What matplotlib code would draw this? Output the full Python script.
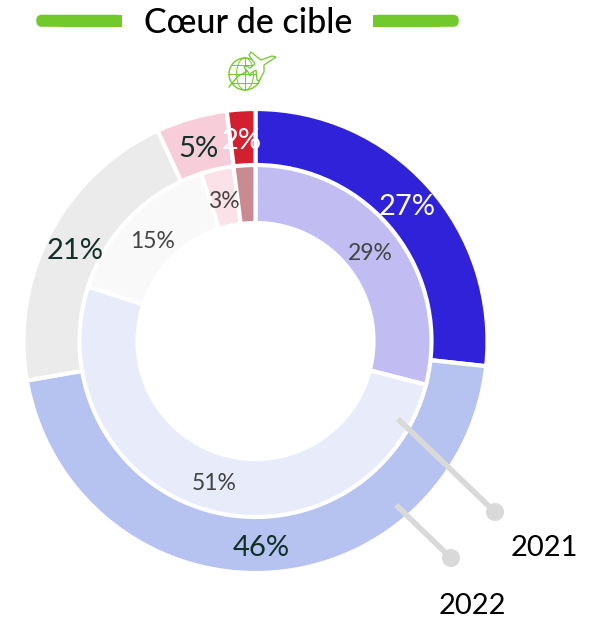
import matplotlib
matplotlib.use("Agg")
import matplotlib.pyplot as plt
import numpy as np
from matplotlib.patches import Circle, Ellipse, FancyBboxPatch, Polygon

W, H = 589, 620

# --- data ---
title = "Cœur de cible"
outer_vals = [27, 46, 21, 5, 2]   # 2022
inner_vals = [29, 51, 15, 3, 2]   # 2021
outer_labels = ["27%", "46%", "21%", "5%", "2%"]
inner_labels = ["29%", "51%", "15%", "3%", ""]
outer_cols = ["#2f22d8", "#b6c2f0", "#ebebeb", "#f6cdd8", "#d22030"]
inner_cols = ["#c1bdf3", "#e7ebfa", "#f9f9f9", "#fbe1e8", "#c98a92"]
outer_txt = ["white", "#12302a", "#12302a", "#12302a", "white"]

# label positions in pixels (from top left)
outer_pos = [(407, 207), (261, 548), (75, 251), (198, 149), (242, 141)]
inner_pos = [(370, 254), (214, 483), (153, 241), (224, 202), (0, 0)]

GREEN = "#72c92c"
GREY = "#d9d9d9"
cx, cy = 255.5, 620 - 341


def py(y):
    return H - y


plt.rcParams['font.family'] = ['Lato', 'DejaVu Sans']

fig = plt.figure(figsize=(W / 100, H / 100), dpi=100)
ax = fig.add_axes([0, 0, 1, 1])

# --- rings ---
ax.pie(outer_vals, colors=outer_cols, startangle=90, counterclock=False,
       radius=232, center=(cx, cy), frame=False,
       wedgeprops=dict(width=57, edgecolor="white", linewidth=3))
ax.pie(inner_vals, colors=inner_cols, startangle=90, counterclock=False,
       radius=176, center=(cx, cy), frame=False,
       wedgeprops=dict(width=58, edgecolor="white", linewidth=3))
ax.set_xlim(0, W)
ax.set_ylim(0, H)
ax.set_aspect("equal")
ax.axis("off")

# --- value labels ---
for lab, pos, col in zip(outer_labels, outer_pos, outer_txt):
    ax.text(pos[0], py(pos[1]), lab, color=col, fontsize=21, fontweight="normal",
            ha="center", va="center", zorder=5)
for lab, pos in zip(inner_labels, inner_pos):
    if lab:
        ax.text(pos[0], py(pos[1]), lab, color="#444444", fontsize=16.5,
                fontweight="normal", ha="center", va="center", zorder=5)

# --- title with side bars ---
ax.text(248, py(23), title, color="black", fontsize=24.5, fontweight="medium",
        ha="center", va="center")
for x0, x1 in [(36, 122), (373, 459)]:
    ax.add_patch(FancyBboxPatch((x0 + 6, py(27) + 6), x1 - x0 - 12, 0.5,
                                boxstyle="round,pad=5.8", fc=GREEN, ec="none", zorder=2))
ax.fill_between([60, 122], py(27), py(15), color=GREEN, lw=0, zorder=3)
ax.fill_between([373, 440], py(27), py(15), color=GREEN, lw=0, zorder=3)

# --- small globe and plane icon ---
ax.add_patch(Circle((245, py(74)), 16, fc="none", ec=GREEN, lw=1))
ax.add_patch(Ellipse((245, py(74)), 17, 32, fc="none", ec=GREEN, lw=0.7))
ax.plot([229, 261], [py(74), py(74)], color=GREEN, lw=0.7)
ax.plot([245, 245], [py(58), py(90)], color=GREEN, lw=0.7)
ax.plot([232, 258], [py(65), py(65)], color=GREEN, lw=0.7)
ax.plot([232, 258], [py(83), py(83)], color=GREEN, lw=0.7)
ax.plot([229, 238, 252, 264], [py(87), py(76), py(69), py(63)], color=GREEN, lw=1)
plane = [(276, 57), (264, 65), (264, 72), (259, 81), (257, 80), (256, 70), (251, 73),
         (250, 76), (248, 72), (244, 67), (247, 66), (250, 68), (255, 64), (249, 55),
         (251, 52), (261, 60), (272, 56)]
ax.add_patch(Polygon([(x, py(y)) for x, y in plane], closed=True, fc="white", ec=GREEN,
                     lw=0.9, zorder=4))

# --- leader lines ---
for (x0, y0), (x1, y1) in [((398, 419), (495, 512)), ((396, 505), (451, 558))]:
    ax.plot([x0, x1], [py(y0), py(y1)], color=GREY, lw=4, zorder=6, solid_capstyle="butt")
    ax.add_patch(Circle((x1, py(y1)), 9, fc=GREY, ec="none", zorder=6))

ax.text(544, py(548), "2021", color="black", fontsize=21, fontweight="normal",
        ha="center", va="center")
ax.text(472, py(606), "2022", color="black", fontsize=21, fontweight="normal",
        ha="center", va="center")

fig.savefig("out.png", dpi=100)
